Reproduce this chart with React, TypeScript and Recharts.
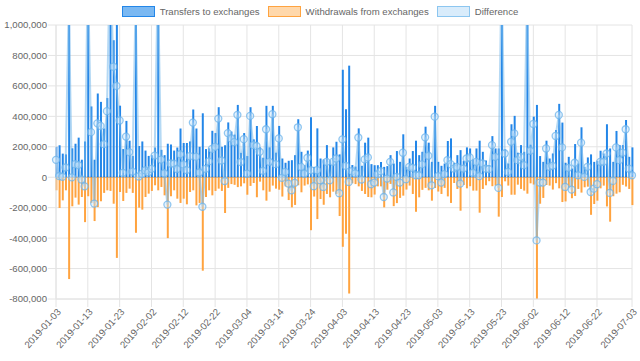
import {
  Bar,
  CartesianGrid,
  ComposedChart,
  Line,
  ReferenceLine,
  XAxis,
  YAxis,
} from "recharts";

// daily values, in thousands, from 2019-01-03 to 2019-07-03
const transfersK = [
  200, 210, 155, 150, 1800, 190, 220, 260, 115, 235,
  1500, 465, 115, 550, 495, 320, 520, 1600, 900, 1130,
  470, 185, 370, 240, 140, 1500, 205, 235, 175, 140,
  145, 195, 1400, 180, 145, 220, 215, 175, 195, 320,
  225, 225, 235, 445, 320, 200, 420, 185, 190, 305,
  290, 460, 200, 210, 360, 300, 280, 475, 160, 290,
  139, 460, 249, 337, 196, 128, 469, 196, 469, 161,
  337, 123, 95, 108, 112, 145, 381, 167, 79, 175,
  394, 68, 321, 123, 117, 211, 112, 196, 233, 150,
  706, 447, 733, 80, 70, 321, 75, 227, 260, 86,
  79, 79, 100, 68, 73, 145, 90, 172, 101, 282,
  68, 123, 172, 240, 145, 167, 332, 227, 101, 469,
  101, 75, 90, 238, 255, 95, 145, 178, 108, 196,
  189, 117, 189, 240, 167, 110, 79, 270, 189, 189,
  1500, 183, 90, 348, 403, 161, 211, 167, 1300, 214,
  398, 475, 139, 101, 240, 123, 156, 310, 482, 359,
  95, 134, 57, 218, 90, 328, 68, 130, 150, 101,
  108, 174, 156, 348, 189, 101, 304, 211, 211, 376,
  134, 196,
];

const withdrawalsK = [
  -86, -202, -152, -86, -669, -191, -134, -180, -130, -295,
  -125, -169, -288, -196, -158, -103, -86, -90, -174, -530,
  -97, -156, -103, -75, -103, -365, -200, -213, -130, -108,
  -90, -53, -86, -64, -119, -400, -125, -86, -141, -169,
  -141, -178, -97, -86, -185, -169, -614, -130, -86, -119,
  -90, -75, -90, -235, -70, -45, -50, -65, -60, -40,
  -115, -57, -38, -132, -29, -86, -154, -95, -55, -75,
  -82, -127, -60, -150, -198, -182, -53, -99, -55, -47,
  -348, -127, -275, -143, -181, -110, -132, -95, -110, -255,
  -457, -372, -764, -40, -45, -60, -90, -110, -130, -132,
  -114, -60, -60, -198, -82, -44, -190, -170, -136, -121,
  -81, -55, -110, -227, -132, -83, -70, -86, -154, -71,
  -94, -110, -70, -126, -169, -38, -77, -220, -51, -73,
  -59, -88, -88, -233, -77, -53, -26, -59, -55, -259,
  -130, -27, -55, -115, -115, -49, -77, -88, -108, -40,
  -48, -890, -174, -136, -51, -55, -81, -39, -73, -163,
  -159, -72, -138, -123, -77, -101, -66, -62, -247, -176,
  -154, -73, -55, -192, -292, -125, -108, -99, -50, -61,
  -77, -183,
];

const tickLabels = [
  "2019-01-03", "2019-01-13", "2019-01-23", "2019-02-02", "2019-02-12",
  "2019-02-22", "2019-03-04", "2019-03-14", "2019-03-24", "2019-04-03",
  "2019-04-13", "2019-04-23", "2019-05-03", "2019-05-13", "2019-05-23",
  "2019-06-02", "2019-06-12", "2019-06-22", "2019-07-03",
];

const yTicks = [-800000, -600000, -400000, -200000, 0, 200000, 400000, 600000, 800000, 1000000];

const startDay = Date.UTC(2019, 0, 3);
const dates = transfersK.map((_, i) => new Date(startDay + i * 86400000).toISOString().slice(0, 10));

const data = dates.map((date, i) => ({
  i,
  date,
  transfers: transfersK[i] * 1000,
  withdrawals: withdrawalsK[i] * 1000,
  difference: (transfersK[i] + withdrawalsK[i]) * 1000,
}));

const xTicks = tickLabels.map((l) => dates.indexOf(l));

const BLUE = "#2386e8";
const ORANGE = "#ffa33f";
const GRID = "#e4e4e4";
const FONT = '"Liberation Sans", Arial, sans-serif';

const legendItems = [
  { label: "Transfers to exchanges", fill: "#7ab8f2", stroke: BLUE },
  { label: "Withdrawals from exchanges", fill: "#ffd8ab", stroke: ORANGE },
  { label: "Difference", fill: "#d9ecfb", stroke: "#8cc6f0" },
];

const ChartLegend = () => (
  <div
    style={{
      position: "absolute",
      top: 6,
      left: 0,
      width: 640,
      display: "flex",
      justifyContent: "center",
      gap: 8,
      fontFamily: FONT,
      fontSize: 9.6,
      lineHeight: "11px",
      color: "#666",
    }}
  >
    {legendItems.map((it) => (
      <div key={it.label} style={{ display: "flex", alignItems: "center" }}>
        <span
          style={{
            display: "inline-block",
            width: 31,
            height: 9,
            background: it.fill,
            border: `1px solid ${it.stroke}`,
            marginRight: 5,
          }}
        />
        <span>{it.label}</span>
      </div>
    ))}
  </div>
);

const DateTick = (props: any) => {
  const { x, y, payload } = props;
  return (
    <g transform={`translate(${x + 3},${y + 1})`}>
      <text transform="rotate(-48)" textAnchor="end" dy="0.35em" fill="#666" fontSize={9.6} fontFamily={FONT}>
        {dates[payload.value]}
      </text>
    </g>
  );
};

export default function App() {
  return (
    <div style={{ position: "absolute", left: 0, top: 0, width: 640, height: 361, background: "#fff" }}>
      <ChartLegend />
      <ComposedChart
        width={640}
        height={361}
        data={data}
        stackOffset="sign"
        margin={{ top: 25, right: 8, bottom: 0, left: 0 }}
      >
        <CartesianGrid stroke={GRID} />
        <XAxis
          type="number"
          dataKey="i"
          domain={[0, 181]}
          ticks={xTicks}
          interval={0}
          height={62}
          tickSize={8}
          tickLine={{ stroke: GRID }}
          axisLine={{ stroke: GRID }}
          tick={<DateTick />}
        />
        <YAxis
          domain={[-800000, 1000000]}
          ticks={yTicks}
          allowDataOverflow
          width={56}
          tickSize={8}
          tickMargin={1}
          tickLine={{ stroke: GRID }}
          axisLine={{ stroke: GRID }}
          tickFormatter={(v: number) => v.toLocaleString("en-US")}
          tick={{ fill: "#666", fontSize: 9.6, fontFamily: FONT }}
        />
        <ReferenceLine y={0} stroke="rgba(0,0,0,0.2)" />
        <Bar dataKey="transfers" stackId="a" fill={BLUE} barSize={2} isAnimationActive={false} />
        <Bar dataKey="withdrawals" stackId="a" fill={ORANGE} barSize={2} isAnimationActive={false} />
        <Line
          type="linear"
          dataKey="difference"
          stroke="rgba(120,185,235,0.55)"
          strokeWidth={2}
          dot={{ r: 3.5, stroke: "rgba(110,180,235,0.75)", strokeWidth: 1.3, fill: "rgba(200,228,250,0.45)" }}
          isAnimationActive={false}
        />
      </ComposedChart>
    </div>
  );
}
